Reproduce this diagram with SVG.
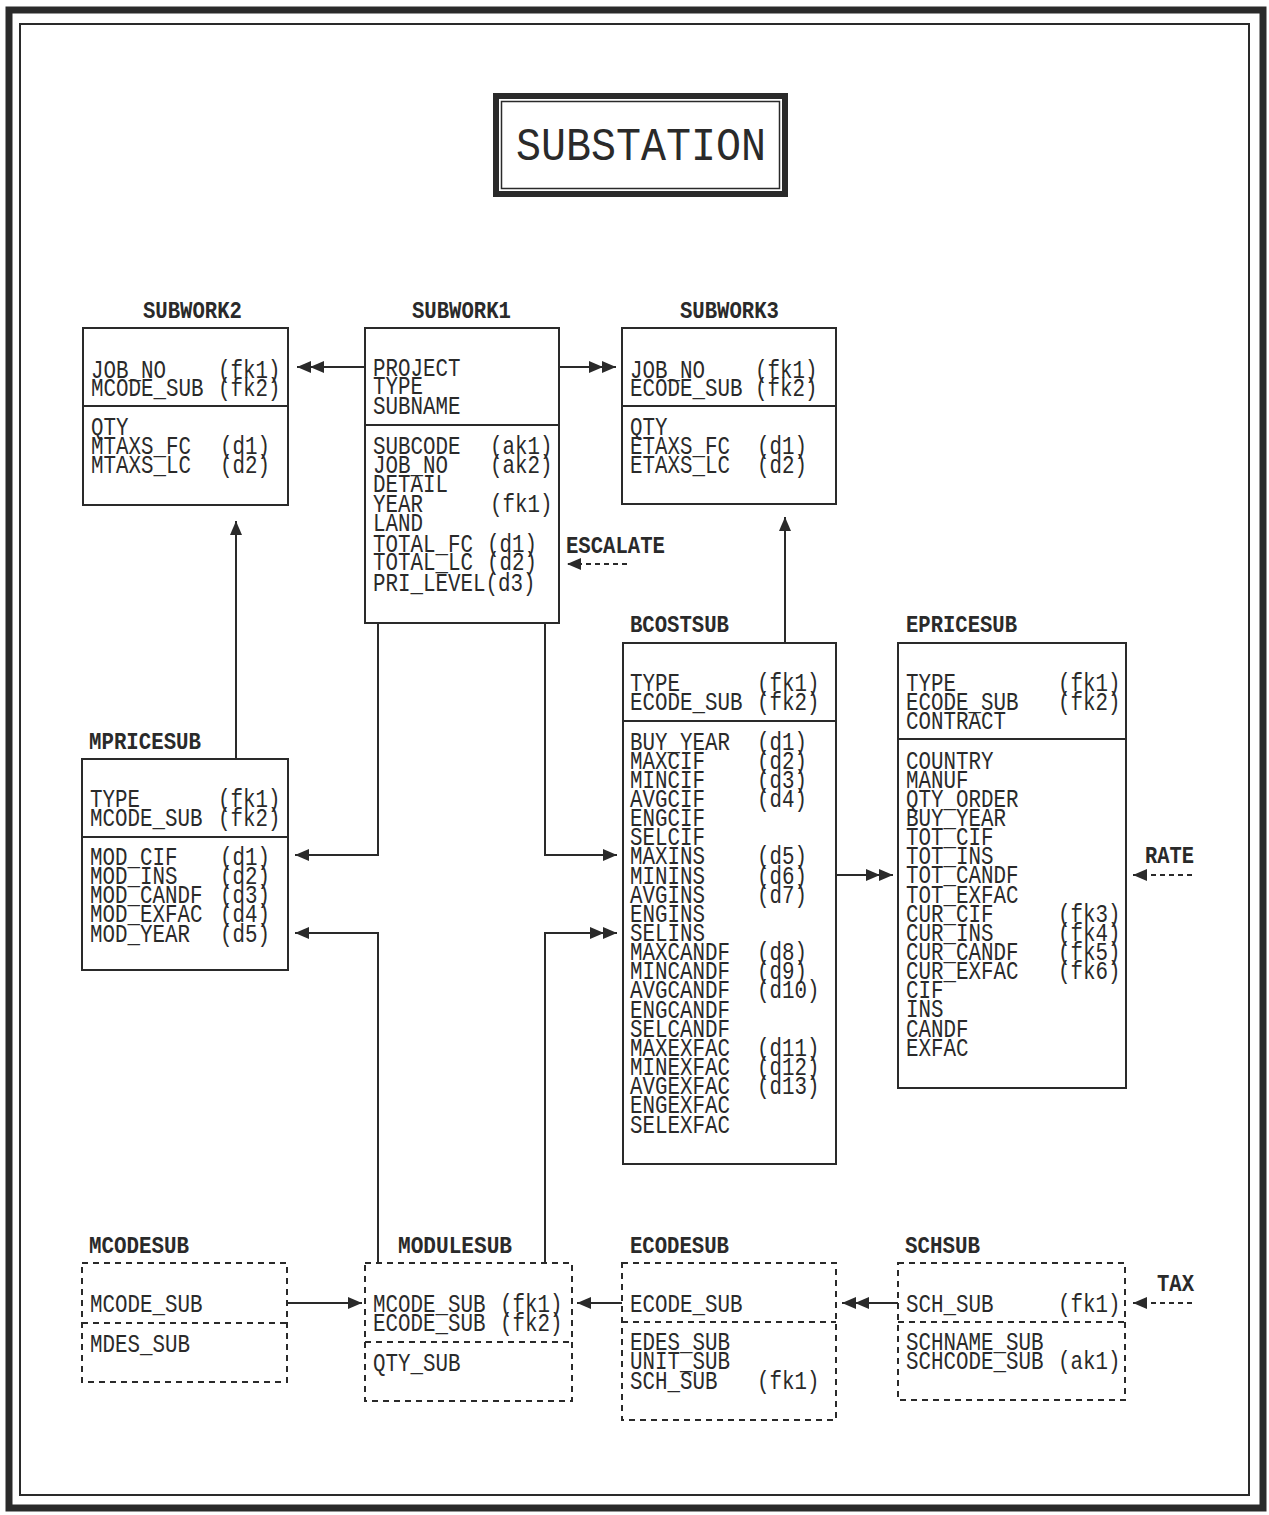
<svg xmlns="http://www.w3.org/2000/svg" width="1269" height="1515" viewBox="0 0 1269 1515">
<style>
.bx{fill:none;stroke:#2a2a2a;stroke-width:2}
.db{fill:none;stroke:#2a2a2a;stroke-width:2;stroke-dasharray:6 5}
.f{font-family:"Liberation Mono","DejaVu Sans Mono",monospace;font-size:26px;fill:#2a2a2a}
.l{font-family:"Liberation Mono","DejaVu Sans Mono",monospace;font-size:23px;font-weight:bold;fill:#2a2a2a}
.t{font-family:"Liberation Mono","DejaVu Sans Mono",monospace;font-size:46px;fill:#2a2a2a}
.c{fill:none;stroke:#2a2a2a;stroke-width:2}
.d{stroke-dasharray:5 4}
</style>
<defs>
<marker id="a1" markerUnits="userSpaceOnUse" markerWidth="14" markerHeight="12" refX="14" refY="6" orient="auto"><path d="M0,0 L14,6 L0,12 z" fill="#2a2a2a"/></marker>
<marker id="a2" markerUnits="userSpaceOnUse" markerWidth="27" markerHeight="12" refX="27" refY="6" orient="auto"><path d="M0,0 L14,6 L0,12 z M13,0 L27,6 L13,12 z" fill="#2a2a2a"/></marker>
</defs>
<rect width="1269" height="1515" fill="#fff"/>
<rect x="9" y="10" width="1254" height="1498" fill="none" stroke="#2a2a2a" stroke-width="7"/>
<rect x="20" y="24" width="1229" height="1471" fill="none" stroke="#2a2a2a" stroke-width="2"/>
<g id="title">
<rect x="496" y="96" width="289" height="98" fill="none" stroke="#2a2a2a" stroke-width="6"/>
<rect x="501.5" y="101.5" width="278" height="87" fill="none" stroke="#2a2a2a" stroke-width="1.5"/>
<text class="t" x="516" y="160" textLength="250" lengthAdjust="spacingAndGlyphs">SUBSTATION</text>
</g>
<g id="connectors">
<path class="c" d="M365,367 L297,367" marker-end="url(#a2)"/>
<path class="c" d="M559,367 L616,367" marker-end="url(#a2)"/>
<path class="c" d="M236,759 L236,521" marker-end="url(#a1)"/>
<path class="c" d="M785,643 L785,517" marker-end="url(#a1)"/>
<path class="c" d="M378,623 L378,855 L295,855" marker-end="url(#a1)"/>
<path class="c" d="M378,1263 L378,933 L295,933" marker-end="url(#a1)"/>
<path class="c" d="M545,623 L545,855 L617,855" marker-end="url(#a1)"/>
<path class="c" d="M545,1263 L545,933 L617,933" marker-end="url(#a2)"/>
<path class="c" d="M836,875 L893,875" marker-end="url(#a2)"/>
<path class="c" d="M287,1303 L362,1303" marker-end="url(#a1)"/>
<path class="c" d="M622,1303 L577,1303" marker-end="url(#a1)"/>
<path class="c" d="M898,1303 L842,1303" marker-end="url(#a2)"/>
<path class="c d" d="M627,564 L567,564" marker-end="url(#a1)"/>
<path class="c d" d="M1192,875 L1133,875" marker-end="url(#a1)"/>
<path class="c d" d="M1192,1303 L1133,1303" marker-end="url(#a1)"/>
<text class="l" x="566" y="553" textLength="99" lengthAdjust="spacingAndGlyphs">ESCALATE</text>
<text class="l" x="1145" y="863" textLength="49" lengthAdjust="spacingAndGlyphs">RATE</text>
<text class="l" x="1157" y="1291" textLength="37" lengthAdjust="spacingAndGlyphs">TAX</text>
</g>
<g id="subwork2">
<text class="l" x="143" y="318" textLength="99" lengthAdjust="spacingAndGlyphs">SUBWORK2</text>
<rect class="bx" x="83" y="328" width="205" height="177"/>
<line class="bx" x1="83" y1="406" x2="288" y2="406"/>
<text class="f" x="91" y="377.5" textLength="75" lengthAdjust="spacingAndGlyphs">JOB_NO</text>
<text class="f" x="218" y="377.5" textLength="62.5" lengthAdjust="spacingAndGlyphs">(fk1)</text>
<text class="f" x="91" y="395.5" textLength="112.5" lengthAdjust="spacingAndGlyphs">MCODE_SUB</text>
<text class="f" x="218" y="395.5" textLength="62.5" lengthAdjust="spacingAndGlyphs">(fk2)</text>
<text class="f" x="91" y="434.5" textLength="37.5" lengthAdjust="spacingAndGlyphs">QTY</text>
<text class="f" x="91" y="453.5" textLength="100" lengthAdjust="spacingAndGlyphs">MTAXS_FC</text>
<text class="f" x="220" y="453.5" textLength="50" lengthAdjust="spacingAndGlyphs">(d1)</text>
<text class="f" x="91" y="472.5" textLength="100" lengthAdjust="spacingAndGlyphs">MTAXS_LC</text>
<text class="f" x="220" y="472.5" textLength="50" lengthAdjust="spacingAndGlyphs">(d2)</text>
</g>
<g id="subwork1">
<text class="l" x="412" y="318" textLength="99" lengthAdjust="spacingAndGlyphs">SUBWORK1</text>
<rect class="bx" x="365" y="328" width="194" height="295"/>
<line class="bx" x1="365" y1="425" x2="559" y2="425"/>
<text class="f" x="373" y="375.5" textLength="87.5" lengthAdjust="spacingAndGlyphs">PROJECT</text>
<text class="f" x="373" y="394" textLength="50" lengthAdjust="spacingAndGlyphs">TYPE</text>
<text class="f" x="373" y="413.5" textLength="87.5" lengthAdjust="spacingAndGlyphs">SUBNAME</text>
<text class="f" x="373" y="453.5" textLength="87.5" lengthAdjust="spacingAndGlyphs">SUBCODE</text>
<text class="f" x="490" y="453.5" textLength="62.5" lengthAdjust="spacingAndGlyphs">(ak1)</text>
<text class="f" x="373" y="472.5" textLength="75" lengthAdjust="spacingAndGlyphs">JOB_NO</text>
<text class="f" x="490" y="472.5" textLength="62.5" lengthAdjust="spacingAndGlyphs">(ak2)</text>
<text class="f" x="373" y="491.5" textLength="75" lengthAdjust="spacingAndGlyphs">DETAIL</text>
<text class="f" x="373" y="511.5" textLength="50" lengthAdjust="spacingAndGlyphs">YEAR</text>
<text class="f" x="490" y="511.5" textLength="62.5" lengthAdjust="spacingAndGlyphs">(fk1)</text>
<text class="f" x="373" y="530.5" textLength="50" lengthAdjust="spacingAndGlyphs">LAND</text>
<text class="f" x="373" y="551.5" textLength="100" lengthAdjust="spacingAndGlyphs">TOTAL_FC</text>
<text class="f" x="487" y="551.5" textLength="50" lengthAdjust="spacingAndGlyphs">(d1)</text>
<text class="f" x="373" y="569.5" textLength="100" lengthAdjust="spacingAndGlyphs">TOTAL_LC</text>
<text class="f" x="487" y="569.5" textLength="50" lengthAdjust="spacingAndGlyphs">(d2)</text>
<text class="f" x="373" y="590.5" textLength="162.5" lengthAdjust="spacingAndGlyphs">PRI_LEVEL(d3)</text>
</g>
<g id="subwork3">
<text class="l" x="680" y="318" textLength="99" lengthAdjust="spacingAndGlyphs">SUBWORK3</text>
<rect class="bx" x="622" y="328" width="214" height="176"/>
<line class="bx" x1="622" y1="406" x2="836" y2="406"/>
<text class="f" x="630" y="377.5" textLength="75" lengthAdjust="spacingAndGlyphs">JOB_NO</text>
<text class="f" x="755" y="377.5" textLength="62.5" lengthAdjust="spacingAndGlyphs">(fk1)</text>
<text class="f" x="630" y="395.5" textLength="112.5" lengthAdjust="spacingAndGlyphs">ECODE_SUB</text>
<text class="f" x="755" y="395.5" textLength="62.5" lengthAdjust="spacingAndGlyphs">(fk2)</text>
<text class="f" x="630" y="434.5" textLength="37.5" lengthAdjust="spacingAndGlyphs">QTY</text>
<text class="f" x="630" y="453.5" textLength="100" lengthAdjust="spacingAndGlyphs">ETAXS_FC</text>
<text class="f" x="757" y="453.5" textLength="50" lengthAdjust="spacingAndGlyphs">(d1)</text>
<text class="f" x="630" y="472.5" textLength="100" lengthAdjust="spacingAndGlyphs">ETAXS_LC</text>
<text class="f" x="757" y="472.5" textLength="50" lengthAdjust="spacingAndGlyphs">(d2)</text>
</g>
<g id="bcostsub">
<text class="l" x="630" y="632" textLength="99" lengthAdjust="spacingAndGlyphs">BCOSTSUB</text>
<rect class="bx" x="623" y="643" width="213" height="521"/>
<line class="bx" x1="623" y1="721" x2="836" y2="721"/>
<text class="f" x="630" y="690.5" textLength="50" lengthAdjust="spacingAndGlyphs">TYPE</text>
<text class="f" x="757" y="690.5" textLength="62.5" lengthAdjust="spacingAndGlyphs">(fk1)</text>
<text class="f" x="630" y="709.5" textLength="112.5" lengthAdjust="spacingAndGlyphs">ECODE_SUB</text>
<text class="f" x="757" y="709.5" textLength="62.5" lengthAdjust="spacingAndGlyphs">(fk2)</text>
<text class="f" x="630" y="749.5" textLength="100" lengthAdjust="spacingAndGlyphs">BUY_YEAR</text>
<text class="f" x="757" y="749.5" textLength="50" lengthAdjust="spacingAndGlyphs">(d1)</text>
<text class="f" x="630" y="768.6" textLength="75" lengthAdjust="spacingAndGlyphs">MAXCIF</text>
<text class="f" x="757" y="768.6" textLength="50" lengthAdjust="spacingAndGlyphs">(d2)</text>
<text class="f" x="630" y="787.8" textLength="75" lengthAdjust="spacingAndGlyphs">MINCIF</text>
<text class="f" x="757" y="787.8" textLength="50" lengthAdjust="spacingAndGlyphs">(d3)</text>
<text class="f" x="630" y="806.9" textLength="75" lengthAdjust="spacingAndGlyphs">AVGCIF</text>
<text class="f" x="757" y="806.9" textLength="50" lengthAdjust="spacingAndGlyphs">(d4)</text>
<text class="f" x="630" y="826.1" textLength="75" lengthAdjust="spacingAndGlyphs">ENGCIF</text>
<text class="f" x="630" y="845.2" textLength="75" lengthAdjust="spacingAndGlyphs">SELCIF</text>
<text class="f" x="630" y="864.4" textLength="75" lengthAdjust="spacingAndGlyphs">MAXINS</text>
<text class="f" x="757" y="864.4" textLength="50" lengthAdjust="spacingAndGlyphs">(d5)</text>
<text class="f" x="630" y="883.5" textLength="75" lengthAdjust="spacingAndGlyphs">MININS</text>
<text class="f" x="757" y="883.5" textLength="50" lengthAdjust="spacingAndGlyphs">(d6)</text>
<text class="f" x="630" y="902.7" textLength="75" lengthAdjust="spacingAndGlyphs">AVGINS</text>
<text class="f" x="757" y="902.7" textLength="50" lengthAdjust="spacingAndGlyphs">(d7)</text>
<text class="f" x="630" y="921.8" textLength="75" lengthAdjust="spacingAndGlyphs">ENGINS</text>
<text class="f" x="630" y="941" textLength="75" lengthAdjust="spacingAndGlyphs">SELINS</text>
<text class="f" x="630" y="960.1" textLength="100" lengthAdjust="spacingAndGlyphs">MAXCANDF</text>
<text class="f" x="757" y="960.1" textLength="50" lengthAdjust="spacingAndGlyphs">(d8)</text>
<text class="f" x="630" y="979.3" textLength="100" lengthAdjust="spacingAndGlyphs">MINCANDF</text>
<text class="f" x="757" y="979.3" textLength="50" lengthAdjust="spacingAndGlyphs">(d9)</text>
<text class="f" x="630" y="998.4" textLength="100" lengthAdjust="spacingAndGlyphs">AVGCANDF</text>
<text class="f" x="757" y="998.4" textLength="62.5" lengthAdjust="spacingAndGlyphs">(d10)</text>
<text class="f" x="630" y="1017.6" textLength="100" lengthAdjust="spacingAndGlyphs">ENGCANDF</text>
<text class="f" x="630" y="1036.7" textLength="100" lengthAdjust="spacingAndGlyphs">SELCANDF</text>
<text class="f" x="630" y="1055.9" textLength="100" lengthAdjust="spacingAndGlyphs">MAXEXFAC</text>
<text class="f" x="757" y="1055.9" textLength="62.5" lengthAdjust="spacingAndGlyphs">(d11)</text>
<text class="f" x="630" y="1075" textLength="100" lengthAdjust="spacingAndGlyphs">MINEXFAC</text>
<text class="f" x="757" y="1075" textLength="62.5" lengthAdjust="spacingAndGlyphs">(d12)</text>
<text class="f" x="630" y="1094.2" textLength="100" lengthAdjust="spacingAndGlyphs">AVGEXFAC</text>
<text class="f" x="757" y="1094.2" textLength="62.5" lengthAdjust="spacingAndGlyphs">(d13)</text>
<text class="f" x="630" y="1113.3" textLength="100" lengthAdjust="spacingAndGlyphs">ENGEXFAC</text>
<text class="f" x="630" y="1132.5" textLength="100" lengthAdjust="spacingAndGlyphs">SELEXFAC</text>
</g>
<g id="epricesub">
<text class="l" x="906" y="632" textLength="111" lengthAdjust="spacingAndGlyphs">EPRICESUB</text>
<rect class="bx" x="898" y="643" width="228" height="445"/>
<line class="bx" x1="898" y1="739" x2="1126" y2="739"/>
<text class="f" x="906" y="690.5" textLength="50" lengthAdjust="spacingAndGlyphs">TYPE</text>
<text class="f" x="1058" y="690.5" textLength="62.5" lengthAdjust="spacingAndGlyphs">(fk1)</text>
<text class="f" x="906" y="709.5" textLength="112.5" lengthAdjust="spacingAndGlyphs">ECODE_SUB</text>
<text class="f" x="1058" y="709.5" textLength="62.5" lengthAdjust="spacingAndGlyphs">(fk2)</text>
<text class="f" x="906" y="728.5" textLength="100" lengthAdjust="spacingAndGlyphs">CONTRACT</text>
<text class="f" x="906" y="768.5" textLength="87.5" lengthAdjust="spacingAndGlyphs">COUNTRY</text>
<text class="f" x="906" y="787.6" textLength="62.5" lengthAdjust="spacingAndGlyphs">MANUF</text>
<text class="f" x="906" y="806.8" textLength="112.5" lengthAdjust="spacingAndGlyphs">QTY_ORDER</text>
<text class="f" x="906" y="825.9" textLength="100" lengthAdjust="spacingAndGlyphs">BUY_YEAR</text>
<text class="f" x="906" y="845.1" textLength="87.5" lengthAdjust="spacingAndGlyphs">TOT_CIF</text>
<text class="f" x="906" y="864.2" textLength="87.5" lengthAdjust="spacingAndGlyphs">TOT_INS</text>
<text class="f" x="906" y="883.4" textLength="112.5" lengthAdjust="spacingAndGlyphs">TOT_CANDF</text>
<text class="f" x="906" y="902.5" textLength="112.5" lengthAdjust="spacingAndGlyphs">TOT_EXFAC</text>
<text class="f" x="906" y="921.7" textLength="87.5" lengthAdjust="spacingAndGlyphs">CUR_CIF</text>
<text class="f" x="1058" y="921.7" textLength="62.5" lengthAdjust="spacingAndGlyphs">(fk3)</text>
<text class="f" x="906" y="940.8" textLength="87.5" lengthAdjust="spacingAndGlyphs">CUR_INS</text>
<text class="f" x="1058" y="940.8" textLength="62.5" lengthAdjust="spacingAndGlyphs">(fk4)</text>
<text class="f" x="906" y="960" textLength="112.5" lengthAdjust="spacingAndGlyphs">CUR_CANDF</text>
<text class="f" x="1058" y="960" textLength="62.5" lengthAdjust="spacingAndGlyphs">(fk5)</text>
<text class="f" x="906" y="979.1" textLength="112.5" lengthAdjust="spacingAndGlyphs">CUR_EXFAC</text>
<text class="f" x="1058" y="979.1" textLength="62.5" lengthAdjust="spacingAndGlyphs">(fk6)</text>
<text class="f" x="906" y="998.3" textLength="37.5" lengthAdjust="spacingAndGlyphs">CIF</text>
<text class="f" x="906" y="1017.4" textLength="37.5" lengthAdjust="spacingAndGlyphs">INS</text>
<text class="f" x="906" y="1036.6" textLength="62.5" lengthAdjust="spacingAndGlyphs">CANDF</text>
<text class="f" x="906" y="1055.7" textLength="62.5" lengthAdjust="spacingAndGlyphs">EXFAC</text>
</g>
<g id="mpricesub">
<text class="l" x="89" y="749" textLength="112" lengthAdjust="spacingAndGlyphs">MPRICESUB</text>
<rect class="bx" x="82" y="759" width="206" height="211"/>
<line class="bx" x1="82" y1="837" x2="288" y2="837"/>
<text class="f" x="90" y="806.5" textLength="50" lengthAdjust="spacingAndGlyphs">TYPE</text>
<text class="f" x="218" y="806.5" textLength="62.5" lengthAdjust="spacingAndGlyphs">(fk1)</text>
<text class="f" x="90" y="825.5" textLength="112.5" lengthAdjust="spacingAndGlyphs">MCODE_SUB</text>
<text class="f" x="218" y="825.5" textLength="62.5" lengthAdjust="spacingAndGlyphs">(fk2)</text>
<text class="f" x="90" y="864.5" textLength="87.5" lengthAdjust="spacingAndGlyphs">MOD_CIF</text>
<text class="f" x="220" y="864.5" textLength="50" lengthAdjust="spacingAndGlyphs">(d1)</text>
<text class="f" x="90" y="883.5" textLength="87.5" lengthAdjust="spacingAndGlyphs">MOD_INS</text>
<text class="f" x="220" y="883.5" textLength="50" lengthAdjust="spacingAndGlyphs">(d2)</text>
<text class="f" x="90" y="902.5" textLength="112.5" lengthAdjust="spacingAndGlyphs">MOD_CANDF</text>
<text class="f" x="220" y="902.5" textLength="50" lengthAdjust="spacingAndGlyphs">(d3)</text>
<text class="f" x="90" y="921.5" textLength="112.5" lengthAdjust="spacingAndGlyphs">MOD_EXFAC</text>
<text class="f" x="220" y="921.5" textLength="50" lengthAdjust="spacingAndGlyphs">(d4)</text>
<text class="f" x="90" y="941.5" textLength="100" lengthAdjust="spacingAndGlyphs">MOD_YEAR</text>
<text class="f" x="220" y="941.5" textLength="50" lengthAdjust="spacingAndGlyphs">(d5)</text>
</g>
<g id="mcodesub">
<text class="l" x="89" y="1253" textLength="100" lengthAdjust="spacingAndGlyphs">MCODESUB</text>
<rect class="db" x="82" y="1263" width="205" height="119"/>
<line class="db" x1="82" y1="1323" x2="287" y2="1323"/>
<text class="f" x="90" y="1311.5" textLength="112.5" lengthAdjust="spacingAndGlyphs">MCODE_SUB</text>
<text class="f" x="90" y="1351.5" textLength="100" lengthAdjust="spacingAndGlyphs">MDES_SUB</text>
</g>
<g id="modulesub">
<text class="l" x="398" y="1253" textLength="114" lengthAdjust="spacingAndGlyphs">MODULESUB</text>
<rect class="db" x="365" y="1263" width="207" height="138"/>
<line class="db" x1="365" y1="1342" x2="572" y2="1342"/>
<text class="f" x="373" y="1311.5" textLength="112.5" lengthAdjust="spacingAndGlyphs">MCODE_SUB</text>
<text class="f" x="500" y="1311.5" textLength="62.5" lengthAdjust="spacingAndGlyphs">(fk1)</text>
<text class="f" x="373" y="1330.5" textLength="112.5" lengthAdjust="spacingAndGlyphs">ECODE_SUB</text>
<text class="f" x="500" y="1330.5" textLength="62.5" lengthAdjust="spacingAndGlyphs">(fk2)</text>
<text class="f" x="373" y="1370.5" textLength="87.5" lengthAdjust="spacingAndGlyphs">QTY_SUB</text>
</g>
<g id="ecodesub">
<text class="l" x="630" y="1253" textLength="99" lengthAdjust="spacingAndGlyphs">ECODESUB</text>
<rect class="db" x="622" y="1263" width="214" height="157"/>
<line class="db" x1="622" y1="1322" x2="836" y2="1322"/>
<text class="f" x="630" y="1311.5" textLength="112.5" lengthAdjust="spacingAndGlyphs">ECODE_SUB</text>
<text class="f" x="630" y="1349.5" textLength="100" lengthAdjust="spacingAndGlyphs">EDES_SUB</text>
<text class="f" x="630" y="1368.5" textLength="100" lengthAdjust="spacingAndGlyphs">UNIT_SUB</text>
<text class="f" x="630" y="1388.5" textLength="87.5" lengthAdjust="spacingAndGlyphs">SCH_SUB</text>
<text class="f" x="757" y="1388.5" textLength="62.5" lengthAdjust="spacingAndGlyphs">(fk1)</text>
</g>
<g id="schsub">
<text class="l" x="905" y="1253" textLength="75" lengthAdjust="spacingAndGlyphs">SCHSUB</text>
<rect class="db" x="898" y="1263" width="227" height="137"/>
<line class="db" x1="898" y1="1322" x2="1125" y2="1322"/>
<text class="f" x="906" y="1311.5" textLength="87.5" lengthAdjust="spacingAndGlyphs">SCH_SUB</text>
<text class="f" x="1058" y="1311.5" textLength="62.5" lengthAdjust="spacingAndGlyphs">(fk1)</text>
<text class="f" x="906" y="1349.5" textLength="137.5" lengthAdjust="spacingAndGlyphs">SCHNAME_SUB</text>
<text class="f" x="906" y="1368.5" textLength="137.5" lengthAdjust="spacingAndGlyphs">SCHCODE_SUB</text>
<text class="f" x="1058" y="1368.5" textLength="62.5" lengthAdjust="spacingAndGlyphs">(ak1)</text>
</g>
</svg>
